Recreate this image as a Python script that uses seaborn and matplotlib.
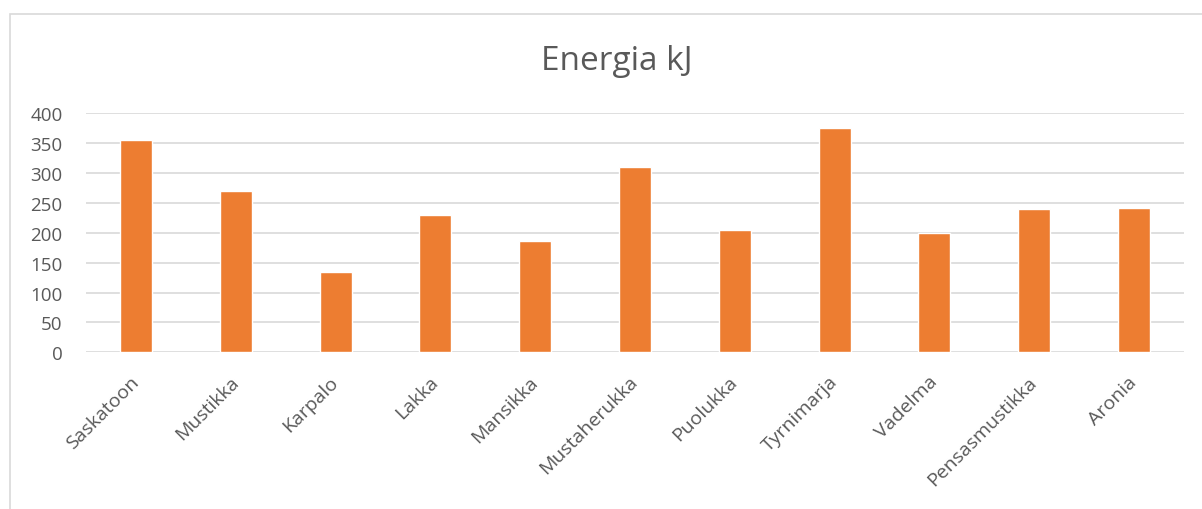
import matplotlib
matplotlib.use('Agg')
import matplotlib.pyplot as plt
import seaborn as sns
import pandas as pd
from matplotlib.patches import Rectangle

marjat = ['Saskatoon', 'Mustikka', 'Karpalo', 'Lakka', 'Mansikka', 'Mustaherukka',
          'Puolukka', 'Tyrnimarja', 'Vadelma', 'Pensasmustikka', 'Aronia']
energia = [356, 270, 135, 230, 186, 310, 204, 376, 199, 240, 242]
y_ticks = [0, 50, 100, 150, 200, 250, 300, 350, 400]

df = pd.DataFrame({'Marja': marjat, 'Energia': energia})

sns.set_style('white')
plt.rcParams['font.family'] = ['Open Sans', 'DejaVu Sans']

fig = plt.figure(figsize=(12.02, 5.10), dpi=100)
ax = fig.add_axes([86 / 1202, 1 - 353.3 / 510, (1184 - 86) / 1202, (353.3 - 114.3) / 510])

sns.barplot(data=df, x='Marja', y='Energia', color='#ED7D31', width=0.32,
            saturation=1, ax=ax, zorder=3)

ax.set_ylim(0, 400)
ax.set_xlim(-0.5, len(marjat) - 0.5)
ax.set_yticks(y_ticks)
ax.set_yticklabels([str(v) for v in y_ticks])
ax.yaxis.grid(True, color='#D9D9D9', linewidth=1.2, zorder=0)
ax.set_axisbelow(True)
for s in ax.spines.values():
    s.set_visible(False)
ax.set_xlabel('')
ax.set_ylabel('')
ax.tick_params(axis='both', length=0, colors='#595959')
ax.tick_params(axis='y', labelsize=13.5, pad=17)
ax.tick_params(axis='x', labelsize=14, pad=19)
plt.setp(ax.get_xticklabels(), rotation=45, ha='right', va='center',
         rotation_mode='anchor')

fig.text(0.513, 1 - 62 / 510, 'Energia kJ', ha='center', va='center',
         fontsize=24, color='#595959')

# harmaa reunus kuten Excelissä
fig.patches.append(Rectangle((10 / 1202, -0.1), 1.2, 1.1 - 15 / 510,
                             transform=fig.transFigure, fill=False,
                             edgecolor='#D9D9D9', linewidth=1.2))

fig.savefig('out.png', dpi=100)
